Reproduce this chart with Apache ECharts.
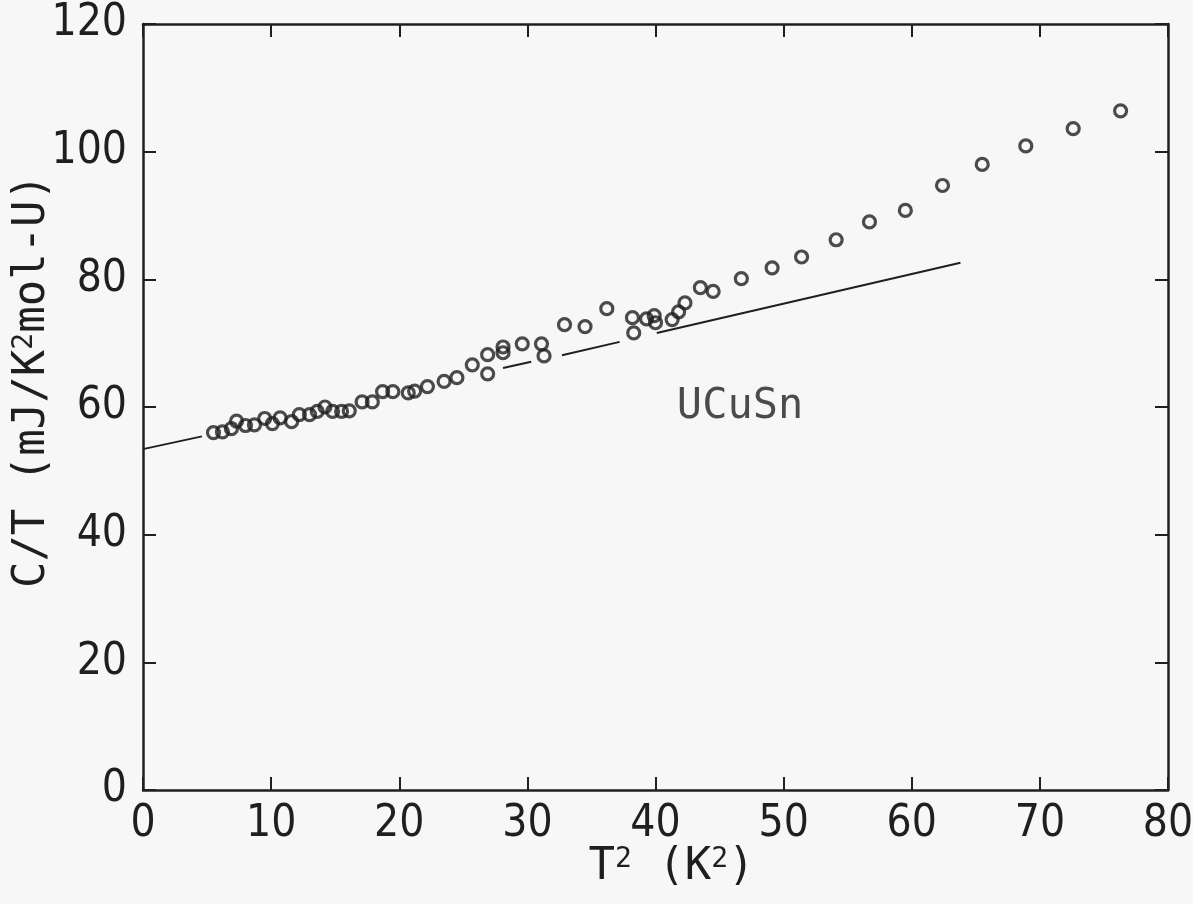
<!DOCTYPE html>
<html>
<head>
<meta charset="utf-8">
<title>UCuSn C/T vs T^2</title>
<script src="https://cdn.jsdelivr.net/npm/echarts@6/dist/echarts.min.js"></script>
<style>
  html, body { margin: 0; padding: 0; background: #f8f7f7; }
  #chart { width: 1193px; height: 904px; }
</style>
</head>
<body>
<div id="chart"></div>
<script>
// 测得的数据点 T^2 (K^2) 和 C/T (mJ/K^2mol-U)
const tSquared = [
  5.5, 6.2, 6.9, 7.3, 8.0, 8.7, 9.5, 10.1, 10.7, 11.6,
  12.2, 13.0, 13.6, 14.2, 14.8, 15.5, 16.1, 17.1, 17.9, 18.7,
  19.5, 20.7, 21.2, 22.2, 23.5, 24.5, 25.7, 26.9, 26.9, 28.1,
  28.1, 29.6, 31.1, 31.3, 32.9, 34.5, 36.2, 38.2, 38.3, 39.3,
  39.9, 40.0, 41.3, 41.8, 42.3, 43.5, 44.5, 46.7, 49.1, 51.4,
  54.1, 56.7, 59.5, 62.4, 65.5, 68.9, 72.6, 76.3
]
const cOverT = [
  56.0, 56.1, 56.6, 57.8, 57.1, 57.2, 58.2, 57.4, 58.3, 57.7,
  58.8, 58.8, 59.3, 60.0, 59.3, 59.3, 59.4, 60.8, 60.8, 62.4,
  62.4, 62.2, 62.5, 63.2, 64.0, 64.6, 66.6, 68.2, 65.2, 69.4,
  68.5, 69.9, 69.9, 68.0, 72.9, 72.6, 75.4, 74.0, 71.6, 73.8,
  74.3, 73.2, 73.7, 74.9, 76.3, 78.7, 78.1, 80.1, 81.8, 83.5,
  86.2, 89.0, 90.8, 94.7, 98.0, 100.9, 103.6, 106.4
]
// 拟合直线（图中断开的几段）
const fitSegments = [
  [[0, 53.4], [4.6, 55.4]],
  [[28.1, 66.1], [30.3, 67.1]],
  [[32.7, 68.1], [37.2, 70.2]],
  [[40.1, 71.6], [63.8, 82.6]]
]
const xTicks = [0, 10, 20, 30, 40, 50, 60, 70, 80]
const yTicks = [0, 20, 40, 60, 80, 100, 120]
const sampleLabel = { text: 'UCuSn', at: [46.6, 60.0] }

const ink = '#1f1f1f'
const monoFont = '"DejaVu Sans Mono", "Liberation Mono", monospace'
const tickFont = '"DejaVu Sans Condensed", "DejaVu Sans", sans-serif'

const points = tSquared.map((t, i) => [t, cOverT[i]])

const frameLine = { show: true, onZero: false, lineStyle: { color: ink, width: 2.5 } }
const inTick = { show: true, inside: true, length: 13, lineStyle: { color: ink, width: 2 } }
// 上标 2
const supRich = {
  sup: { fontFamily: monoFont, fontSize: 28, color: ink, padding: [0, 0, 16, 0] }
}

const chart = echarts.init(document.getElementById('chart'))
chart.setOption({
  backgroundColor: '#f8f7f7',
  animation: false,
  grid: { left: 143, right: 25, top: 24, bottom: 114, containLabel: false, outerBoundsMode: 'none' },
  xAxis: [
    {
      type: 'value',
      min: xTicks[0],
      max: xTicks[xTicks.length - 1],
      interval: 10,
      position: 'bottom',
      axisLine: frameLine,
      axisTick: inTick,
      splitLine: { show: false },
      axisLabel: {
        color: ink,
        fontFamily: tickFont,
        fontSize: 44,
        margin: 13
      },
      name: 'T{sup|2} (K{sup|2})',
      nameLocation: 'middle',
      nameGap: 56,
      nameMoveOverlap: false,
      nameTextStyle: {
        color: ink,
        fontFamily: monoFont,
        fontSize: 44,
        verticalAlign: 'top',
        padding: [0, 0, 0, 32],
        rich: supRich
      }
    },
    {
      type: 'value',
      min: xTicks[0],
      max: xTicks[xTicks.length - 1],
      interval: 10,
      position: 'top',
      axisLine: frameLine,
      axisTick: inTick,
      splitLine: { show: false },
      axisLabel: { show: false }
    }
  ],
  yAxis: [
    {
      type: 'value',
      min: yTicks[0],
      max: yTicks[yTicks.length - 1],
      interval: 20,
      position: 'left',
      axisLine: frameLine,
      axisTick: inTick,
      splitLine: { show: false },
      axisLabel: {
        color: ink,
        fontFamily: tickFont,
        fontSize: 44,
        margin: 16
      },
      name: 'C/T (mJ/K{sup|2}mol-U)',
      nameLocation: 'middle',
      nameGap: 88,
      nameMoveOverlap: false,
      nameTextStyle: {
        color: ink,
        fontFamily: monoFont,
        fontSize: 44,
        padding: [0, 0, 0, 52],
        rich: supRich
      }
    },
    {
      type: 'value',
      min: yTicks[0],
      max: yTicks[yTicks.length - 1],
      interval: 20,
      position: 'right',
      axisLine: frameLine,
      axisTick: inTick,
      splitLine: { show: false },
      axisLabel: { show: false }
    }
  ],
  series: [
    ...fitSegments.map(seg => ({
      type: 'line',
      data: seg,
      symbol: 'none',
      lineStyle: { color: ink, width: 2 },
      silent: true
    })),
    {
      name: 'UCuSn',
      type: 'scatter',
      data: points,
      symbol: 'circle',
      symbolSize: 12,
      itemStyle: { color: 'rgba(0,0,0,0)', borderColor: ink, borderWidth: 3.2 }
    },
    {
      // 样品名称标注
      type: 'scatter',
      data: [sampleLabel.at],
      symbolSize: 1,
      itemStyle: { color: 'rgba(0,0,0,0)' },
      silent: true,
      label: {
        show: true,
        formatter: sampleLabel.text,
        position: 'inside',
        color: ink,
        fontFamily: monoFont,
        fontSize: 42
      }
    }
  ]
})
</script>
</body>
</html>
